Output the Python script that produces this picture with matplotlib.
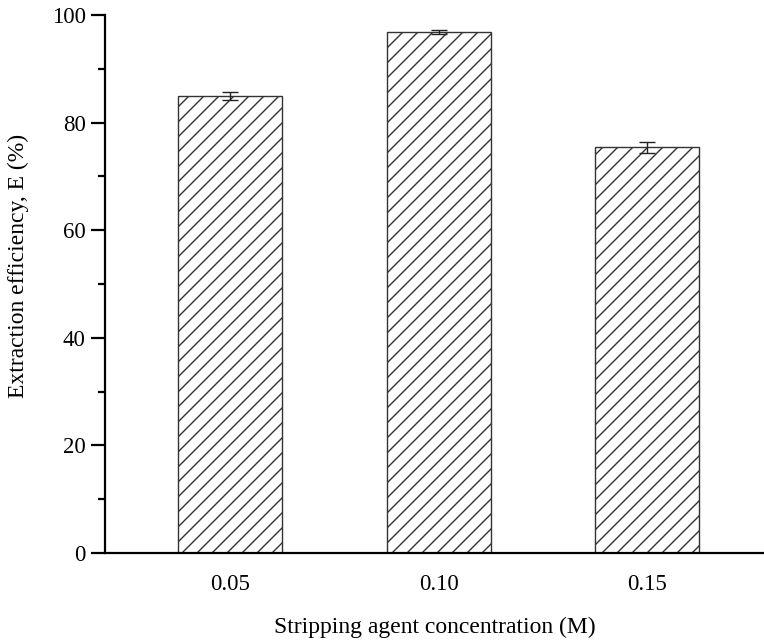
import numpy as np
import matplotlib.pyplot as plt

DPI = 90
S = 100 / DPI  # scale so sizes stay as they would at 100 dpi

plt.rcParams['font.family'] = ['Liberation Serif', 'DejaVu Serif']
plt.rcParams['hatch.linewidth'] = 1.0 * S

categories = ['0.05', '0.10', '0.15']
efficiency = [84.9, 96.8, 75.4]
errors = [0.7, 0.4, 1.0]

fig = plt.figure(figsize=(764 / DPI, 644 / DPI), dpi=DPI)
ax = fig.add_axes([105 / 764, 1 - 553 / 644, (764 - 105) / 764, (553 - 15) / 644])

x = np.arange(1, len(categories) + 1)
ax.bar(x, efficiency, width=0.5, color='white', edgecolor='#333333',
       linewidth=1.0 * S, hatch='//')
ax.errorbar(x, efficiency, yerr=errors, fmt='none', ecolor='#222222',
            elinewidth=1.0 * S, capsize=5.8 * S, capthick=1.0 * S)

ax.set_xlim(0.4, 3.56)
ax.set_ylim(0, 100)
ax.set_xticks(x)
ax.set_xticklabels(categories)
ax.set_yticks(np.arange(0, 101, 20))
ax.set_yticks(np.arange(10, 100, 20), minor=True)

for side in ['top', 'right']:
    ax.spines[side].set_visible(False)
for side in ['left', 'bottom']:
    ax.spines[side].set_linewidth(1.6 * S)

ax.tick_params(axis='y', which='major', direction='out', length=10 * S, width=1.6 * S,
               labelsize=16.5 * S, pad=4 * S)
ax.tick_params(axis='y', which='minor', direction='out', length=5 * S, width=1.6 * S)
ax.tick_params(axis='x', which='major', length=0, labelsize=16.5 * S, pad=15 * S)

ax.set_xlabel('Stripping agent concentration (M)', fontsize=17 * S)
ax.set_ylabel('Extraction efficiency, E (%)', fontsize=17 * S)
ax.xaxis.set_label_coords(0.5, -(627 - 553) / 538, transform=ax.transAxes)
ax.xaxis.label.set_va('center')
ax.yaxis.set_label_coords(-(105 - 18) / 659, (553 - 266) / 538, transform=ax.transAxes)
ax.yaxis.label.set_va('center')

fig.savefig('out.png', dpi=DPI)
